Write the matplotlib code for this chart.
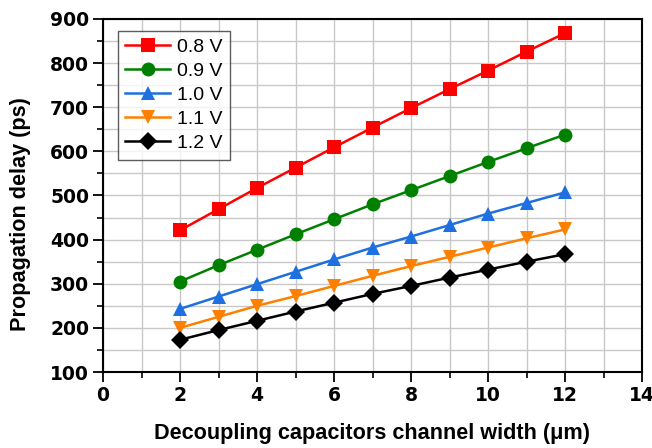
import numpy as np
import matplotlib
matplotlib.use('Agg')
import matplotlib.pyplot as plt
from matplotlib.ticker import MultipleLocator

plt.rcParams['font.family'] = ['Liberation Sans', 'DejaVu Sans']

width = [2, 3, 4, 5, 6, 7, 8, 9, 10, 11, 12]
labels = ['0.8 V', '0.9 V', '1.0 V', '1.1 V', '1.2 V']
delay_08 = [421, 469, 517, 563, 609, 654, 698, 741, 783, 826, 868]
delay_09 = [305, 342, 377, 412, 446, 480, 512, 544, 576, 607, 638]
delay_10 = [243, 271, 299, 327, 355, 382, 407, 433, 459, 483, 507]
delay_11 = [200, 225, 250, 272, 295, 318, 340, 361, 382, 403, 423]
delay_12 = [173, 195, 216, 237, 257, 277, 295, 314, 332, 350, 367]

series = [delay_08, delay_09, delay_10, delay_11, delay_12]
colors = ['#ff0000', '#008000', '#1e6fdf', '#ff8000', '#000000']
markers = ['s', 'o', '^', 'v', 'D']
sizes = [9.5, 10, 10.5, 10.5, 9]

fig = plt.figure(figsize=(6.52, 4.48), dpi=100)
ax = fig.add_axes([103 / 652, 1 - 372 / 448, 539 / 652, 353 / 448])

for y, c, m, s, lab in zip(series, colors, markers, sizes, labels):
    ax.plot(width, y, color=c, marker=m, markersize=s, linewidth=1.8,
            markeredgewidth=0, label=lab, zorder=3)

ax.set_xlim(0, 14)
ax.set_ylim(100, 900)
ax.xaxis.set_major_locator(MultipleLocator(2))
ax.xaxis.set_minor_locator(MultipleLocator(1))
ax.yaxis.set_major_locator(MultipleLocator(100))
ax.yaxis.set_minor_locator(MultipleLocator(50))
ax.grid(which='both', color='#c8c8c8', linewidth=1.0, zorder=0)
ax.set_axisbelow(True)

ax.tick_params(which='major', direction='out', length=7, width=1.3,
               labelsize=13.5, pad=3)
ax.tick_params(which='minor', direction='out', length=4, width=1.2)
for t in ax.get_xticklabels() + ax.get_yticklabels():
    t.set_fontweight('bold')
    t.set_family('DejaVu Sans')
for sp in ax.spines.values():
    sp.set_linewidth(1.5)

ax.set_xlabel('Decoupling capacitors channel width (\u03bcm)', fontsize=15.6,
              fontweight='bold')
ax.set_ylabel('Propagation delay (ps)', fontsize=15.6, fontweight='bold')
ax.xaxis.set_label_coords(0.5, -0.145)
ax.yaxis.set_label_coords(-0.134, 0.448)

leg = ax.legend(loc='upper left', bbox_to_anchor=(0.0278, 0.966),
                borderaxespad=0, prop={'size': 14},
                frameon=True, fancybox=False, edgecolor='#333333',
                handlelength=2.3, handletextpad=0.35, labelspacing=0.33,
                borderpad=0.38)
leg.get_frame().set_linewidth(1.0)

fig.savefig('out.png', dpi=100)
